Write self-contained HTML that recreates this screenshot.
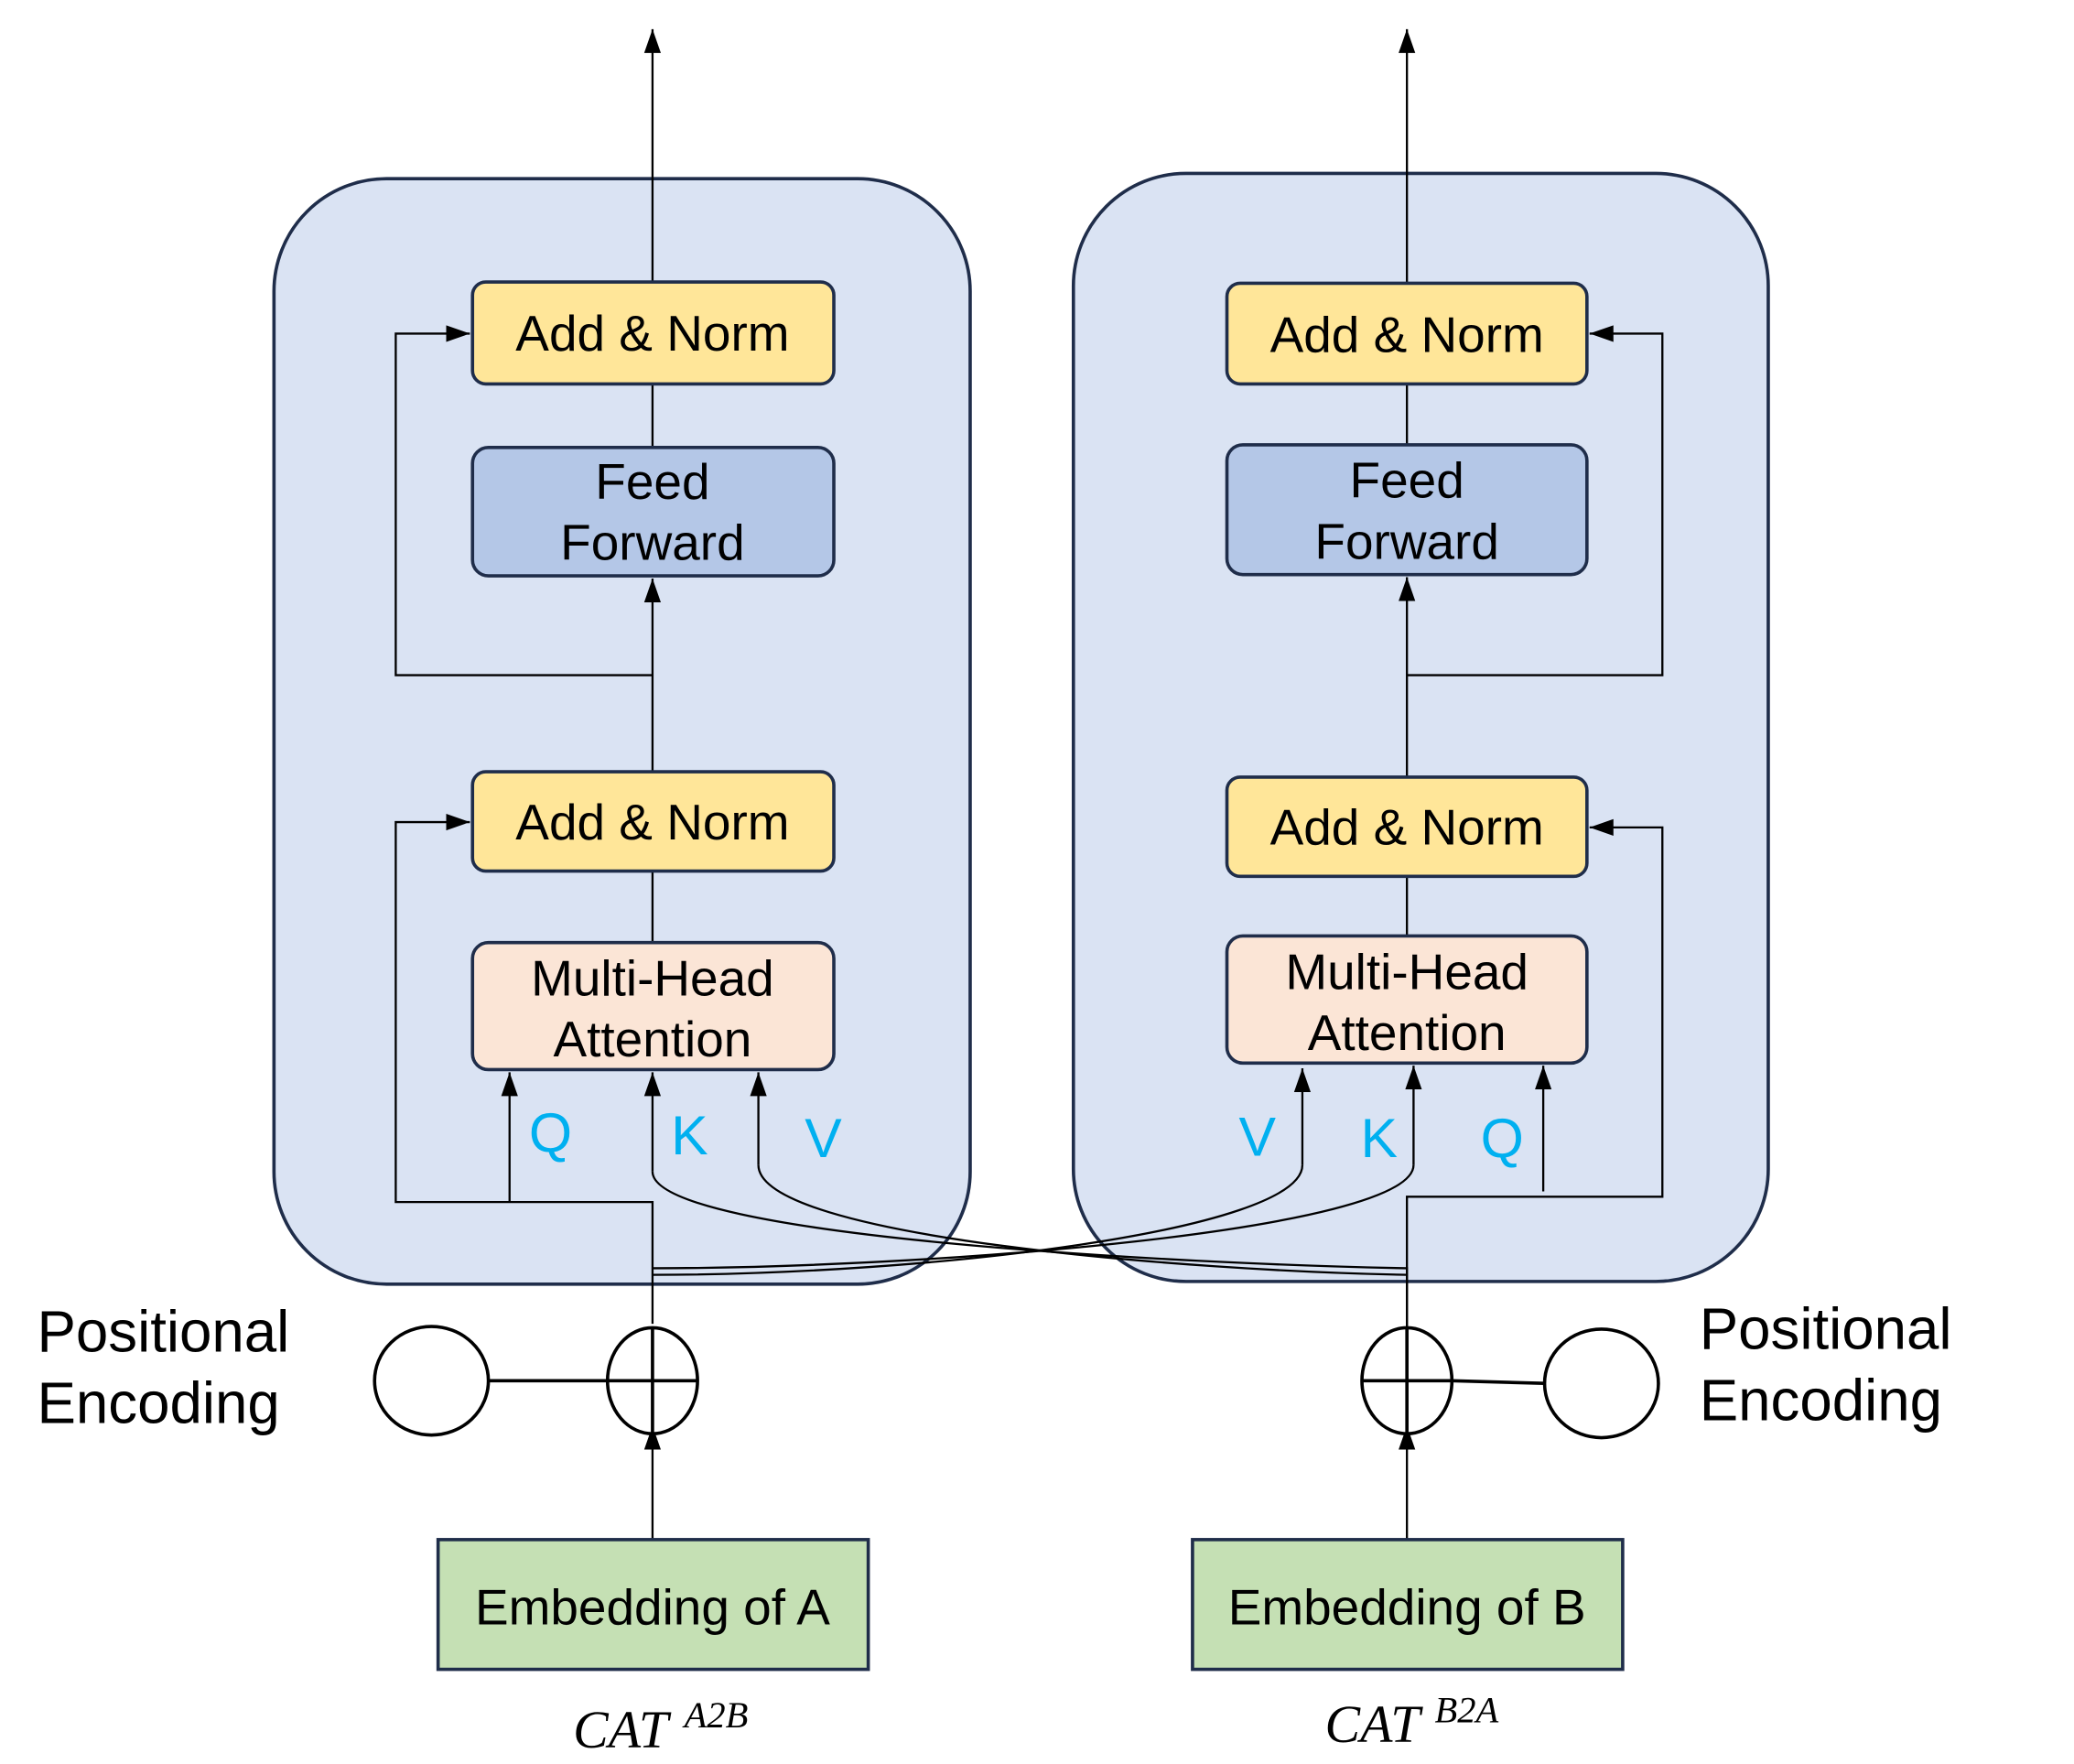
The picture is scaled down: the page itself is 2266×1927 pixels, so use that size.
<!DOCTYPE html>
<html><head><style>html,body{margin:0;padding:0;background:#fff}svg{display:block}</style></head>
<body>
<svg width="2266" height="1927" viewBox="0 0 1567 1332.5" preserveAspectRatio="none" xmlns="http://www.w3.org/2000/svg" font-family="Liberation Sans, sans-serif">
<defs>
<marker id="b" viewBox="0 0 10 10" refX="10" refY="5" markerWidth="18" markerHeight="18" orient="auto" markerUnits="userSpaceOnUse"><path d="M0,1.5 L10,5 L0,8.5z" fill="#000"/></marker></defs>
<rect x="207" y="135" width="526" height="835" rx="85" fill="#DAE3F3" stroke="#1F2D4A" stroke-width="2.5"/>
<rect x="811" y="131" width="525" height="837" rx="85" fill="#DAE3F3" stroke="#1F2D4A" stroke-width="2.5"/>
<g stroke="#000" stroke-width="1.6" fill="none">
<path d="M493 213V22" marker-end="url(#b)"/>
<path d="M1063 214V22" marker-end="url(#b)"/>
<path d="M493 290V338M493 658V712M1063 290V336M1063 662V707"/>
<path d="M493 583V437" marker-end="url(#b)"/>
<path d="M1063 587V436" marker-end="url(#b)"/>
<path d="M493 510H299V252H355" marker-end="url(#b)"/>
<path d="M493 1000V908H299V621H355" marker-end="url(#b)"/>
<path d="M385 908V810" marker-end="url(#b)"/>
<path d="M493 1163V1077" marker-end="url(#b)"/>
<path d="M1063 1163V1077" marker-end="url(#b)"/>
<path d="M1063 510H1256V252H1201" marker-end="url(#b)"/>
<path d="M1063 1003V904H1256V625H1201" marker-end="url(#b)"/>
<path d="M1166 900V805" marker-end="url(#b)"/>
<path d="M493 885C493 935 900 955 1063 958V1010" />
<path d="M493 885V810" marker-end="url(#b)"/>
<path d="M573 880C573 935 900 960 1063 963"/>
<path d="M573 880V810" marker-end="url(#b)"/>
<path d="M1068 880C1068 930 700 958 493 958"/>
<path d="M1068 880V805" marker-end="url(#b)"/>
<path d="M984 880C984 930 700 963 493 963"/>
<path d="M984 880V807" marker-end="url(#b)"/>
</g>
<g stroke="#1F2D4A" stroke-width="2.5">
<rect x="357" y="213" width="273" height="77" rx="10" fill="#FFE699"/>
<rect x="357" y="338" width="273" height="97" rx="12" fill="#B4C7E7"/>
<rect x="357" y="583" width="273" height="75" rx="10" fill="#FFE699"/>
<rect x="357" y="712" width="273" height="96" rx="12" fill="#FBE5D6"/>
<rect x="927" y="214" width="272" height="76" rx="10" fill="#FFE699"/>
<rect x="927" y="336" width="272" height="98" rx="12" fill="#B4C7E7"/>
<rect x="927" y="587" width="272" height="75" rx="10" fill="#FFE699"/>
<rect x="927" y="707" width="272" height="96" rx="12" fill="#FBE5D6"/>
<rect x="331" y="1163" width="325" height="98" fill="#C5E0B4"/>
<rect x="901" y="1163" width="325" height="98" fill="#C5E0B4"/>
</g>
<g stroke="#000" stroke-width="2.5" fill="#fff">
<ellipse cx="326" cy="1043" rx="43" ry="41"/>
<ellipse cx="493" cy="1043" rx="34" ry="40"/>
<ellipse cx="1063" cy="1043" rx="34" ry="40"/>
<ellipse cx="1210" cy="1045" rx="43" ry="41"/>
<path d="M369 1043H527M493 1003V1083M1029 1043H1097M1063 1003V1083M1097 1043L1167 1045" fill="none"/>
</g>
<g font-size="38" text-anchor="middle" fill="#000">
<text x="493" y="265">Add &amp; Norm</text>
<text x="493" y="377">Feed</text><text x="493" y="423">Forward</text>
<text x="493" y="634">Add &amp; Norm</text>
<text x="493" y="752">Multi-Head</text><text x="493" y="798">Attention</text>
<text x="1063" y="266">Add &amp; Norm</text>
<text x="1063" y="376">Feed</text><text x="1063" y="422">Forward</text>
<text x="1063" y="638">Add &amp; Norm</text>
<text x="1063" y="747">Multi-Head</text><text x="1063" y="793">Attention</text>
<text x="493" y="1227">Embedding of A</text>
<text x="1063" y="1227">Embedding of B</text>
</g>
<g font-size="42" fill="#00B0F0" text-anchor="middle">
<text x="416" y="870">Q</text><text x="521" y="872">K</text><text x="622" y="874">V</text>
<text x="950" y="873">V</text><text x="1042" y="874">K</text><text x="1135" y="874">Q</text>
</g>
<g font-size="44" fill="#000">
<text x="28" y="1021">Positional</text><text x="28" y="1075">Encoding</text>
<text x="1284" y="1019">Positional</text><text x="1284" y="1073">Encoding</text>
</g>
<g font-family="Liberation Serif, serif" font-style="italic" fill="#000">
<text x="433" y="1320" font-size="40">CAT</text><text x="517" y="1305" font-size="28">A2B</text>
<text x="1001" y="1316" font-size="40">CAT</text><text x="1084" y="1301" font-size="28">B2A</text>
</g>
</svg>
</body></html>
